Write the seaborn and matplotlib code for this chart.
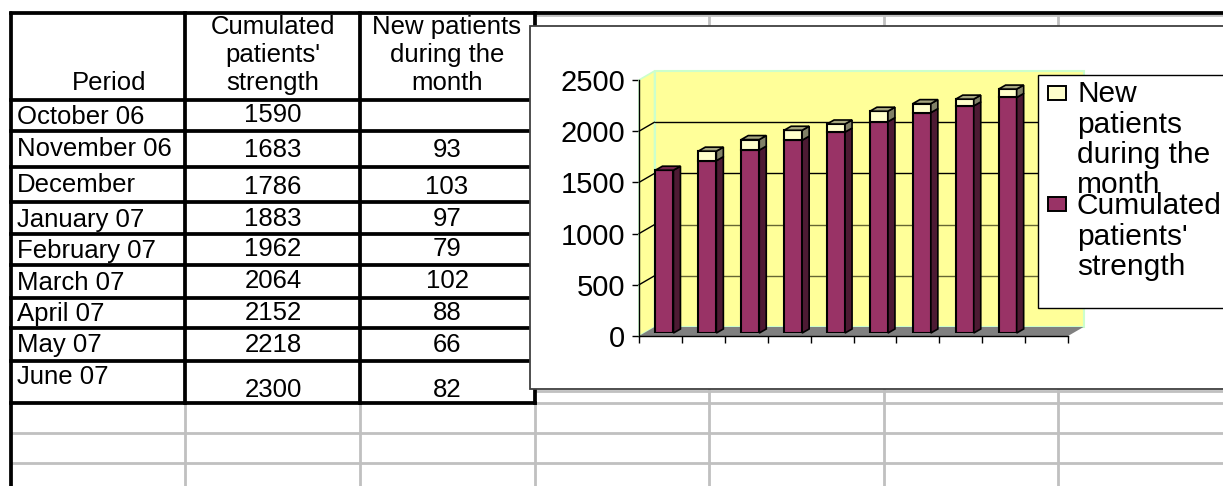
import numpy as np
import matplotlib.pyplot as plt
import seaborn as sns
from matplotlib.patches import Polygon, Rectangle

# table / chart data
periods = ['October 06', 'November 06', 'December', 'January 07', 'February 07',
           'March 07', 'April 07', 'May 07', 'June 07']
cumulated = [1590, 1683, 1786, 1883, 1962, 2064, 2152, 2218, 2300]
new_patients = [0, 93, 103, 97, 79, 102, 88, 66, 82]
new_labels = ['', '93', '103', '97', '79', '102', '88', '66', '82']
y_ticks = [0, 500, 1000, 1500, 2000, 2500]
header_period = 'Period'
header_cum = ['Cumulated', "patients'", 'strength']
header_new = ['New patients', 'during the', 'month']
legend_new = ['New', 'patients', 'during the', 'month']
legend_cum = ['Cumulated', "patients'", 'strength']

# layout in pixels
W, H = 1223, 486
row_lines = [13, 100, 131, 167, 202, 234, 265, 298, 328, 361, 403]
col_lines = [11, 185, 360, 535]
sheet_cols = [709, 884, 1058]
sheet_rows = [433, 463]
name_y = [117, 149, 185, 220, 251, 283, 314, 345, 377]
cum_y = [115, 150, 187, 219, 249, 281, 313, 345, 390]
new_y = [115, 150, 187, 219, 249, 281, 313, 345, 390]
header_y = [27, 55, 83]
legend_new_y = [94, 125, 155, 185]
legend_cum_y = [206, 237, 267]

PURPLE, PURPLE_SIDE, PURPLE_TOP = '#993366', '#4D1A33', '#73264D'
CREAM, CREAM_SIDE, CREAM_TOP = '#FFFFCC', '#808066', '#A6A680'
GREY = '#C0C0C0'

sns.set_style('white')
plt.rcParams['font.family'] = ['Liberation Sans', 'DejaVu Sans']
plt.rcParams['text.color'] = 'black'
plt.rcParams['ytick.labelcolor'] = 'black'


def px_axes(x0, y0, x1, y1, z):
    return fig.add_axes([x0 / W, 1 - y1 / H, (x1 - x0) / W, (y1 - y0) / H], zorder=z)


fig = plt.figure(figsize=(12.23, 4.86), dpi=100, facecolor='white')

# spreadsheet behind the chart
ax = px_axes(0, 0, W, H, 0)
ax.set_xlim(0, W)
ax.set_ylim(H, 0)
ax.axis('off')

for x in sheet_cols:
    ax.plot([x, x], [15, H], color=GREY, lw=2)
for x in col_lines[1:]:
    ax.plot([x, x], [403, H], color=GREY, lw=2)
for y in sheet_rows:
    ax.plot([11, W], [y, y], color=GREY, lw=2)
for y in [15.5, 391, 403]:
    ax.plot([535, W], [y, y], color=GREY, lw=2)
for y in row_lines:
    ax.plot([col_lines[0], col_lines[-1]], [y, y], color='black', lw=2.7, solid_capstyle='projecting')
for x in col_lines[1:]:
    ax.plot([x, x], [13, 403], color='black', lw=2.7, solid_capstyle='projecting')
ax.plot([col_lines[0], col_lines[0]], [13, H], color='black', lw=2.7)
ax.plot([535, W], [13, 13], color='black', lw=2.7)

fs = 18.5
ax.text(109, header_y[2], header_period, fontsize=fs, ha='center', va='center')
for y, a, b in zip(header_y, header_cum, header_new):
    ax.text(273, y, a, fontsize=fs, ha='center', va='center')
    ax.text(447, y, b, fontsize=fs, ha='center', va='center')
for i, name in enumerate(periods):
    ax.text(17, name_y[i], name, fontsize=fs, ha='left', va='center')
    ax.text(273, cum_y[i], str(cumulated[i]), fontsize=fs, ha='center', va='center')
    ax.text(447, new_y[i], new_labels[i], fontsize=fs, ha='center', va='center')

ax.add_patch(Rectangle((530, 26.5), 800, 362.5, facecolor='white', edgecolor='#404040',
                       lw=1.3, zorder=5))

# chart frame: front plane of the 3D box
ax_f = px_axes(639, 80, 1068, 336, 1)
ax_f.set_facecolor('none')
ax_f.set_xlim(-0.5, 9.5)
ax_f.set_ylim(0, 2500)
depth_x = 15.5 / 42.9
depth_y = 9 / (256 / 2500)
left, right = -0.5, 9.5

ax_f.add_patch(Rectangle((left + depth_x, depth_y), right - left, 2500, facecolor='#FFFF99',
                         edgecolor='#CCFFCC', lw=1.5, clip_on=False, zorder=1))
ax_f.add_patch(Polygon([(left, 0), (left + depth_x, depth_y), (left + depth_x, 2500 + depth_y), (left, 2500)],
                       facecolor='#FFFF99', edgecolor='#CCFFCC', lw=1.2, clip_on=False, zorder=1))
ax_f.add_patch(Polygon([(left, 0), (left + depth_x, depth_y), (right + depth_x, depth_y), (right, 0)],
                       facecolor='#808080', edgecolor='none', clip_on=False, zorder=2))
for v in y_ticks[1:-1]:
    line_col = '#666633' if v < 1500 else 'black'
    ax_f.plot([left + depth_x, right + depth_x], [v + depth_y, v + depth_y], color=line_col, lw=1,
              clip_on=False, zorder=2)
    ax_f.plot([left, left + depth_x], [v, v + depth_y], color='black', lw=1, clip_on=False, zorder=2)

sns.despine(ax=ax_f)
for s in ['left', 'bottom']:
    ax_f.spines[s].set_color('black')
    ax_f.spines[s].set_linewidth(1)
ax_f.set_yticks(y_ticks)
ax_f.set_xticks(np.arange(11) - 0.5)
ax_f.set_xticklabels([])
ax_f.tick_params(axis='y', direction='out', length=5, width=1, color='black', labelcolor='black',
                 labelsize=21, pad=5, left=True)
ax_f.tick_params(axis='x', direction='out', length=5, width=1, color='black', bottom=True)

# stacked bars, pushed half way into the box
ax_b = px_axes(643, 77, 1072, 333, 2)
ax_b.set_facecolor('none')
sns.barplot(x=periods, y=cumulated, color=PURPLE, saturation=1, width=0.42, edgecolor='black',
            linewidth=1.5, ax=ax_b)
sns.barplot(x=periods, y=new_patients, bottom=cumulated, color=CREAM, saturation=1, width=0.42,
            edgecolor='black', linewidth=1.5, ax=ax_b)
ax_b.set_xlim(-0.5, 9.5)
ax_b.set_ylim(0, 2500)
ax_b.axis('off')

bar_dx = 7 / 42.9
bar_dy = 4 / (256 / 2500)
bars = list(ax_b.patches)
n = len(periods)
for k, bar in enumerate(bars):
    x0, y0 = bar.get_x(), bar.get_y()
    x1, y1 = x0 + bar.get_width(), y0 + bar.get_height()
    if bar.get_height() == 0:
        continue
    side, top = (PURPLE_SIDE, PURPLE_TOP) if k < n else (CREAM_SIDE, CREAM_TOP)
    ax_b.add_patch(Polygon([(x1, y0), (x1 + bar_dx, y0 + bar_dy), (x1 + bar_dx, y1 + bar_dy), (x1, y1)],
                           facecolor=side, edgecolor='black', lw=1.2, clip_on=False))
    # top face of the purple part only shows where nothing sits on it
    if k >= n or new_patients[k] == 0:
        ax_b.add_patch(Polygon([(x0, y1), (x1, y1), (x1 + bar_dx, y1 + bar_dy), (x0 + bar_dx, y1 + bar_dy)],
                               facecolor=top, edgecolor='black', lw=1.2, clip_on=False))

# legend, cut off by the right edge like the original
ax_l = px_axes(0, 0, W, H, 3)
ax_l.set_xlim(0, W)
ax_l.set_ylim(H, 0)
ax_l.axis('off')
ax_l.add_patch(Rectangle((1037.5, 75), 300, 233, facecolor='white', edgecolor='black', lw=1))
ax_l.add_patch(Rectangle((1048, 86), 18, 14, facecolor=CREAM, edgecolor='black', lw=1.4))
ax_l.add_patch(Rectangle((1048, 197), 18, 14, facecolor=PURPLE, edgecolor='black', lw=1.4))
for y, t in zip(legend_new_y, legend_new):
    ax_l.text(1077, y, t, fontsize=21.5, ha='left', va='center')
for y, t in zip(legend_cum_y, legend_cum):
    ax_l.text(1077, y, t, fontsize=21.5, ha='left', va='center')

fig.savefig('out.png', dpi=100)
